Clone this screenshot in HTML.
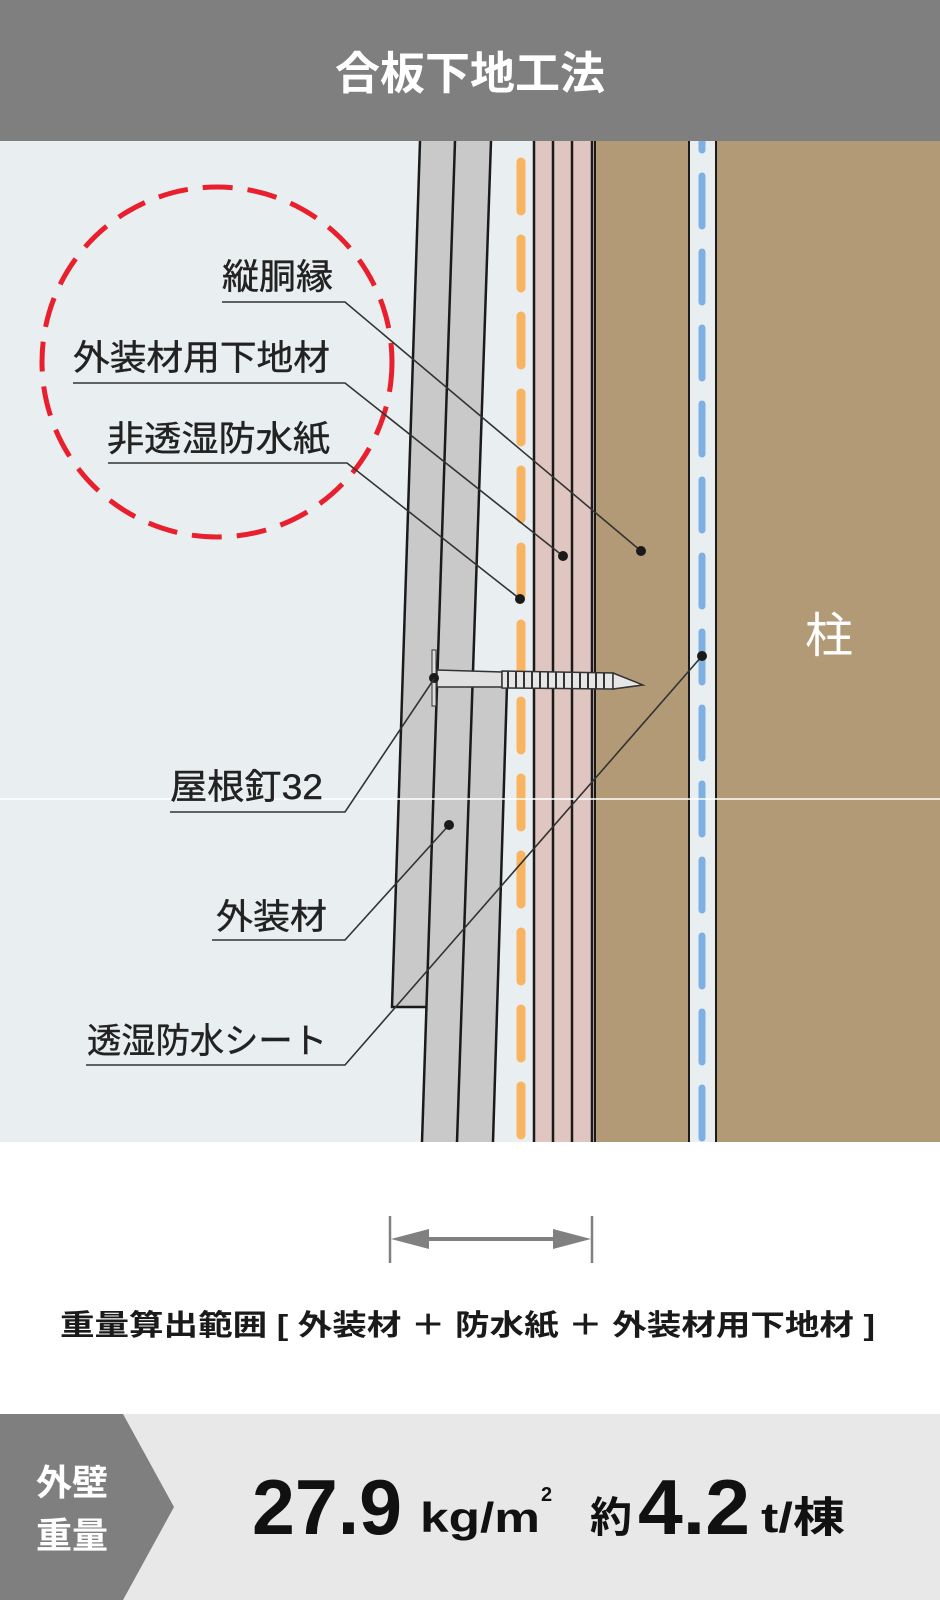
<!DOCTYPE html>
<html><head><meta charset="utf-8">
<style>
html,body{margin:0;padding:0;background:#fff;}
svg{display:block;}
text{font-family:"Liberation Sans","Noto Sans CJK JP",sans-serif;}
</style></head>
<body>
<svg width="940" height="1600" viewBox="0 0 940 1600" xmlns="http://www.w3.org/2000/svg">
<!-- diagram background -->
<rect x="0" y="141" width="940" height="1001" fill="#e9eef0"/>

<!-- pink layers -->
<rect x="533" y="141" width="61" height="1001" fill="#dfc6c1"/>
<g stroke="#1a1a1a" stroke-width="2.5">
<line x1="534" y1="141" x2="534" y2="1142"/>
<line x1="553" y1="141" x2="553" y2="1142"/>
<line x1="572" y1="141" x2="572" y2="1142"/>
<line x1="592" y1="141" x2="592" y2="1142"/>
</g>
<!-- brown -->
<rect x="595" y="141" width="94" height="1001" fill="#b39a77"/>
<rect x="716" y="141" width="224" height="1001" fill="#b39a77"/>
<line x1="595" y1="141" x2="595" y2="1142" stroke="#1a1a1a" stroke-width="2"/>
<line x1="689" y1="141" x2="689" y2="1142" stroke="#1a1a1a" stroke-width="2"/>
<line x1="716" y1="141" x2="716" y2="1142" stroke="#1a1a1a" stroke-width="2"/>

<!-- orange dashes -->
<line x1="521" y1="162" x2="521" y2="1142" stroke="#f9b462" stroke-width="9" stroke-dasharray="49 28" stroke-linecap="round"/>
<!-- blue dashes -->
<line x1="702" y1="100" x2="702" y2="1142" stroke="#7fb0e3" stroke-width="7" stroke-dasharray="50 26" stroke-linecap="round"/>

<!-- siding boards -->
<polygon points="420,141 491,141 472,685 436,685 426,1007 392,1007" fill="#c9c9c9"/>
<polygon points="436,685 507,685 493,1142 422,1142" fill="#c9c9c9"/>
<g stroke="#1a1a1a" stroke-width="2.5" fill="none">
<polyline points="420,141 392,1007 426,1007"/>
<line x1="455" y1="141" x2="422" y2="1142"/>
<line x1="491" y1="141" x2="457" y2="1142"/>
<line x1="507" y1="685" x2="493" y2="1142"/>
</g>

<!-- nail -->
<rect x="432" y="650" width="4" height="56" fill="#ddd" stroke="#333" stroke-width="1"/>
<polygon points="437,670 502,672 502,687 437,687" fill="#e0e0e0" stroke="#333" stroke-width="1.5"/>
<polygon points="502,671 613,673 613,689 502,688" fill="#e6e6e6" stroke="#333" stroke-width="1.5"/>
<g stroke="#333" stroke-width="2">
<line x1="508" y1="671" x2="508" y2="688"/><line x1="516" y1="671" x2="516" y2="688"/>
<line x1="524" y1="671" x2="524" y2="688"/><line x1="532" y1="671" x2="532" y2="688"/>
<line x1="540" y1="672" x2="540" y2="688"/><line x1="548" y1="672" x2="548" y2="688"/>
<line x1="556" y1="672" x2="556" y2="688"/><line x1="564" y1="672" x2="564" y2="688"/>
<line x1="572" y1="672" x2="572" y2="689"/><line x1="580" y1="672" x2="580" y2="689"/>
<line x1="588" y1="672" x2="588" y2="689"/><line x1="596" y1="673" x2="596" y2="689"/>
<line x1="604" y1="673" x2="604" y2="689"/>
</g>
<polygon points="613,673 643,685 613,689" fill="#e6e6e6" stroke="#333" stroke-width="1.5"/>
<circle cx="434" cy="678" r="5" fill="#1a1a1a"/>

<!-- white horizontal seam -->
<line x1="0" y1="799" x2="940" y2="799" stroke="#fff" stroke-width="1.5"/>

<!-- title bar (drawn after so nothing pokes above) -->
<rect x="0" y="0" width="940" height="141" fill="#7f7f7f"/>
<text x="470" y="89" text-anchor="middle" font-size="45" font-weight="bold" fill="#fff">合板下地工法</text>

<!-- red dashed circle -->
<circle cx="217" cy="362" r="175" fill="none" stroke="#e8202e" stroke-width="5" stroke-dasharray="30 15"/>

<!-- leaders -->
<g stroke="#333" stroke-width="1.6" fill="none">
<polyline points="222,302 345,302 641,551"/>
<polyline points="73,383 345,383 563,556"/>
<polyline points="108,463 347,463 520,599"/>
<polyline points="170,812 345,812 434,679"/>
<polyline points="212,940 345,940 449,825"/>
<polyline points="86,1065 345,1065 702,656"/>
</g>
<g fill="#1a1a1a">
<circle cx="641" cy="551" r="5"/>
<circle cx="563" cy="556" r="5"/>
<circle cx="520" cy="599" r="5"/>
<circle cx="449" cy="825" r="5"/>
<circle cx="702" cy="656" r="5"/>
</g>

<!-- labels -->
<g font-size="35" fill="#222" stroke="#222" stroke-width="0.4">
<text x="222" y="289" textLength="111" lengthAdjust="spacingAndGlyphs">縦胴縁</text>
<text x="73" y="370" textLength="257" lengthAdjust="spacingAndGlyphs">外装材用下地材</text>
<text x="107" y="451" textLength="223" lengthAdjust="spacingAndGlyphs">非透湿防水紙</text>
<text x="170" y="799" textLength="153" lengthAdjust="spacingAndGlyphs">屋根釘32</text>
<text x="216" y="929" textLength="111" lengthAdjust="spacingAndGlyphs">外装材</text>
<text x="87" y="1053" textLength="240" lengthAdjust="spacingAndGlyphs">透湿防水シート</text>
</g>
<text x="829" y="652" text-anchor="middle" font-size="48" fill="#fff">柱</text>

<!-- dimension arrow -->
<g stroke="#808080" stroke-width="2.5">
<line x1="390" y1="1216" x2="390" y2="1263"/>
<line x1="592" y1="1216" x2="592" y2="1263"/>
<line x1="410" y1="1239" x2="572" y2="1239" stroke-width="4"/>
</g>
<polygon points="391,1239 429,1229 429,1249" fill="#808080"/>
<polygon points="591,1239 553,1229 553,1249" fill="#808080"/>
<text x="60" y="1335" font-size="29" font-weight="bold" fill="#1a1a1a" textLength="815" lengthAdjust="spacingAndGlyphs">重量算出範囲 [ 外装材 ＋ 防水紙 ＋ 外装材用下地材 ]</text>

<!-- bottom band -->
<rect x="0" y="1414" width="940" height="186" fill="#e8e8e8"/>
<polygon points="0,1414 123,1414 174,1507 123,1600 0,1600" fill="#7f7f7f"/>
<text x="72" y="1495" text-anchor="middle" font-size="36" font-weight="bold" fill="#fff">外壁</text>
<text x="72" y="1548" text-anchor="middle" font-size="36" font-weight="bold" fill="#fff">重量</text>
<text x="252" y="1534" font-size="78" font-weight="bold" fill="#111" textLength="150" lengthAdjust="spacingAndGlyphs">27.9</text>
<text x="420" y="1532" font-size="42" font-weight="bold" fill="#111" textLength="120" lengthAdjust="spacingAndGlyphs">kg/m</text>
<text x="541" y="1501" font-size="20" font-weight="bold" fill="#111">2</text>
<text x="590" y="1532" font-size="42" font-weight="bold" fill="#111">約</text>
<text x="638" y="1534" font-size="78" font-weight="bold" fill="#111" textLength="112" lengthAdjust="spacingAndGlyphs">4.2</text>
<text x="761" y="1532" font-size="42" font-weight="bold" fill="#111" textLength="84" lengthAdjust="spacingAndGlyphs">t/棟</text>
</svg>
</body></html>
